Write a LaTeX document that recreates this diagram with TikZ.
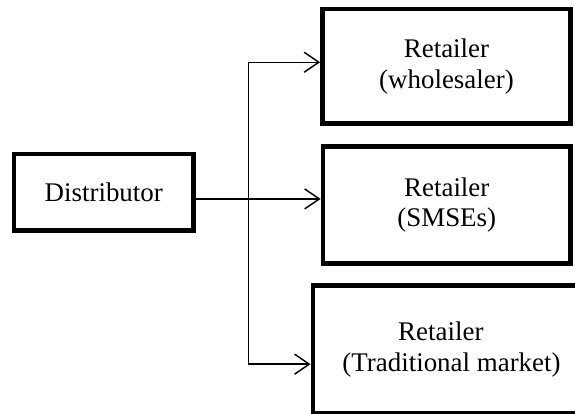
\documentclass[tikz,border=0pt]{standalone}
\usepackage{fontspec}
\setmainfont{Liberation Serif}
\usepackage{tikz}
\usetikzlibrary{arrows.meta}

\tikzset{
  unitbox/.style={draw, line width=3.6pt, align=center, inner sep=0pt,
    font=\fontsize{20.2}{23.2}\selectfont},
  flowline/.style={line width=1.1pt},
  flowarrow/.style={flowline, -{Straight Barb[length=11pt,width=15pt,line width=1.1pt]}}
}

\begin{document}
\begin{tikzpicture}[x=0.75pt,y=0.75pt,yscale=-1,xscale=1]
%set diagram to the size of the page
\useasboundingbox (0,0) rectangle (575,414);

%Shape: Rectangle [id:distributor]
\node [unitbox, minimum width=134.6pt, minimum height=57.4pt] (dist) at (103.75,192.25) {Distributor};
%Shape: Rectangle [id:wholesaler]
\node [unitbox, minimum width=186pt, minimum height=85.9pt] (whole) at (446.5,66.25) {\raisebox{-3pt}{Retailer}\\\raisebox{-3pt}{(wholesaler)}};
%Shape: Rectangle [id:smses]
\node [unitbox, minimum width=185.6pt, minimum height=87.75pt] (smses) at (446.75,205) {\raisebox{-1.5pt}{Retailer}\\\raisebox{-1.5pt}{(SMSEs)}};
%Shape: Rectangle [id:traditional] (runs off the right edge, text kept left)
\node [unitbox, minimum width=230pt, minimum height=96pt] (trad) at (466.3,349.5)
  {\raisebox{-2pt}{\begin{tabular}{@{}c@{\hspace{22.2pt}}}Retailer\hspace*{16pt}\\(Traditional market)\end{tabular}}};

%Straight Lines (yshift is flipped by yscale=-1)
\coordinate (split) at (248.5,199);
\draw [flowarrow] ([yshift=5pt]dist.east) -- ([yshift=5pt]dist.east -| smses.west);
\draw [flowarrow] (split) |- ([yshift=-3pt]whole.west);
\draw [flowarrow] (split) |- ([yshift=11pt]trad.west);

\end{tikzpicture}
\end{document}
